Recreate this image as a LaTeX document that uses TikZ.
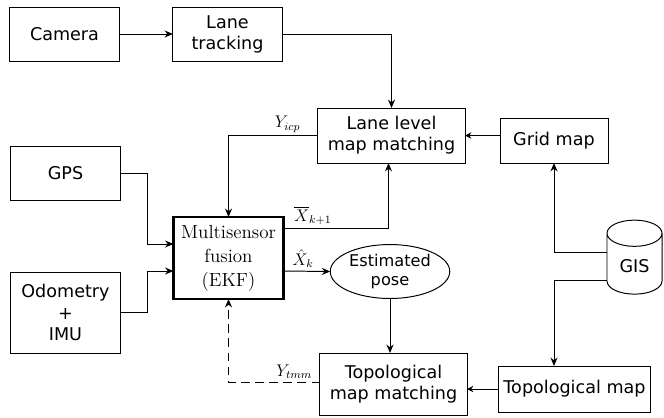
\documentclass[tikz,border=0pt]{standalone}
\usepackage{fontspec}
\setsansfont{DejaVu Sans}
\usetikzlibrary{calc, positioning, arrows.meta, shapes.geometric}

\begin{document}
\begin{tikzpicture}[
    x=0.025cm, y=-0.025cm,
    >={Stealth[length=6pt, width=5pt]},
    line width=0.7pt,
    box/.style={draw, align=center, inner sep=1pt, outer sep=0pt,
        font=\sffamily\fontsize{12.5}{15}\selectfont},
    small/.style={-{Stealth[length=4.5pt, width=4.5pt]}},
    lbl/.style={above, font=\fontsize{12}{14}\selectfont, inner sep=2pt}
]
    \useasboundingbox (0,0) rectangle (664,417);

    % Sensors on the left
    \node[box, minimum width=2.725cm, minimum height=1.35cm] (cam) at (64.5,34) {Camera};
    \node[box, minimum width=2.725cm, minimum height=1.35cm] (lanetrack) at (227.5,34) {Lane\\tracking};
    \node[box, minimum width=2.725cm, minimum height=1.35cm] (gps) at (65.5,173) {GPS};
    \node[box, minimum width=2.725cm, minimum height=2.025cm] (odo) at (65.5,312.5) {Odometry\\+\\IMU};

    % Fusion block and estimate
    \node[draw, line width=1.6pt, align=center, inner sep=1pt, outer sep=0pt,
        minimum width=2.75cm, minimum height=2.05cm,
        font=\fontsize{13.5}{17}\selectfont] (ekf) at (228.5,258) {Multisensor\\fusion\\(EKF)};
    \node[box, ellipse, minimum width=2.75cm, minimum height=1.325cm,
        font=\sffamily\fontsize{11.5}{14}\selectfont] (pose) at (390,271.5) {Estimated\\pose};

    % Map matching blocks
    \node[box, minimum width=3.675cm, minimum height=1.375cm] (llmm) at (391.5,135.5) {Lane level\\map matching};
    \node[box, minimum width=3.675cm, minimum height=1.55cm] (tmm) at (393.5,384) {Topological\\map matching};
    \node[box, minimum width=2.7cm, minimum height=1.125cm] (grid) at (554,140.5) {Grid map};
    \node[box, minimum width=3.775cm, minimum height=1.15cm] (topo) at (574.5,389) {Topological map};

    % Map database
    \node[box, cylinder, shape border rotate=90, aspect=0.8,
        minimum width=1.375cm, minimum height=1.85cm] (gis) at (634.5,266) {GIS};

    % Connections
    \draw[->] (cam) -- (lanetrack);
    \draw[->] (lanetrack.east) -| (llmm.north);
    \draw[small] (grid.west |- llmm.east) -- (llmm.east);
    \draw[->] (llmm.west) -| (ekf.north) node[lbl, pos=0.17] {$Y_{icp}$};

    \draw[->] (gps.east) -- ++(27,0) |- ($(ekf.west)+(0,-14)$);
    \draw[->] (odo.east) -- ++(27,0) |- ($(ekf.west)+(0,13)$);

    \draw[->] ($(ekf.east)+(0,-30)$) -| ($(llmm.south)+(-3,0)$) node[lbl, pos=0.14] {$\overline{X}_{k+1}$};
    \draw[->] ($(ekf.east)+(0,13)$) -- (pose.west) node[lbl, pos=0.42] {$\hat{X}_k$};
    \draw[->] (pose.south) -- (pose.south |- tmm.north);

    % GIS feeds both maps
    \draw[->] ($(gis.center)+(-27.5,-14)$) -| (grid.south);
    \draw[->] ($(gis.center)+(-27.5,14)$) -| (topo.north -| grid.south);
    \draw[small] (topo.west) -- (topo.west -| tmm.east);

    % Topological correction back to the filter
    \draw[->, dash pattern=on 6pt off 4pt] ($(tmm.west)+(0,-2)$) -| (ekf.south) node[lbl, pos=0.14] {$Y_{tmm}$};

\end{tikzpicture}
\end{document}
